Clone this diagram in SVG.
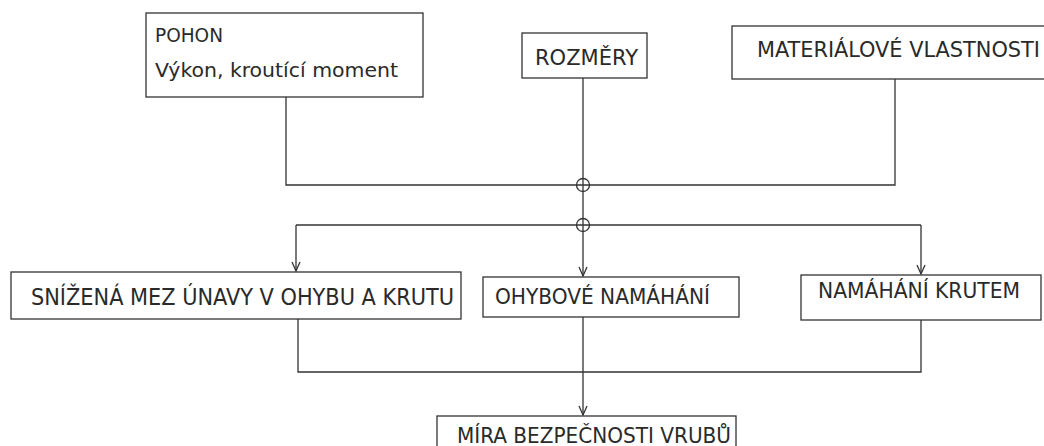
<svg xmlns="http://www.w3.org/2000/svg" width="1044" height="446" viewBox="0 0 1044 446">
<style>
.box{fill:#fff;stroke:#333;stroke-width:1.3}
.t{font-family:"DejaVu Sans Condensed","DejaVu Sans",sans-serif;fill:#2a2a2a;font-size:21px;font-weight:300}
.c{fill:none;stroke:#333;stroke-width:1.3}
</style>
<defs>
<marker id="arr" markerWidth="12" markerHeight="12" refX="10" refY="6" orient="auto" markerUnits="userSpaceOnUse">
<path d="M1,2 L10,6 L1,10" fill="none" stroke="#333" stroke-width="1.3"/>
</marker>
</defs>
<rect width="1044" height="446" fill="#fff"/>
<g id="connectors">
<path class="c" d="M286,97 V185 H895 V79"/>
<path class="c" d="M583,78 V185"/>
<circle class="c" cx="583" cy="185" r="6.5"/>
<path class="c" d="M583,185 V225"/>
<circle class="c" cx="583" cy="225" r="6.5"/>
<path class="c" d="M296,225 H921"/>
<path class="c" d="M296,225 V271" marker-end="url(#arr)"/>
<path class="c" d="M583,225 V276" marker-end="url(#arr)"/>
<path class="c" d="M921,225 V274" marker-end="url(#arr)"/>
<path class="c" d="M298,319 V372 H921 V320"/>
<path class="c" d="M583,317 V415" marker-end="url(#arr)"/>
</g>
<g id="pohon">
<rect class="box" x="146" y="13" width="277" height="84"/>
<text class="t" x="155" y="42" style="font-size:19px" textLength="68" lengthAdjust="spacingAndGlyphs">POHON</text>
<text class="t" x="155" y="77" style="font-size:20px" textLength="243" lengthAdjust="spacingAndGlyphs">Výkon, kroutící moment</text>
</g>
<g id="rozmery">
<rect class="box" x="522" y="33" width="125" height="45"/>
<text class="t" x="535" y="65" textLength="103" lengthAdjust="spacingAndGlyphs">ROZMĚRY</text>
</g>
<g id="materialove">
<rect class="box" x="732" y="26" width="330" height="53"/>
<text class="t" x="757" y="57" textLength="283" lengthAdjust="spacingAndGlyphs">MATERIÁLOVÉ VLASTNOSTI</text>
</g>
<g id="snizena">
<rect class="box" x="11" y="272" width="450" height="47"/>
<text class="t" x="31" y="305" style="font-size:23px" textLength="423" lengthAdjust="spacingAndGlyphs">SNÍŽENÁ MEZ ÚNAVY V OHYBU A KRUTU</text>
</g>
<g id="ohybove">
<rect class="box" x="483" y="277" width="256" height="40"/>
<text class="t" x="495" y="304" textLength="215" lengthAdjust="spacingAndGlyphs">OHYBOVÉ NAMÁHÁNÍ</text>
</g>
<g id="krutem">
<rect class="box" x="801" y="275" width="240" height="45"/>
<text class="t" x="818" y="298" textLength="202" lengthAdjust="spacingAndGlyphs">NAMÁHÁNÍ KRUTEM</text>
</g>
<g id="mira">
<rect class="box" x="437" y="416" width="299" height="40"/>
<text class="t" x="457" y="443" textLength="274" lengthAdjust="spacingAndGlyphs">MÍRA BEZPEČNOSTI VRUBŮ</text>
</g>
</svg>
